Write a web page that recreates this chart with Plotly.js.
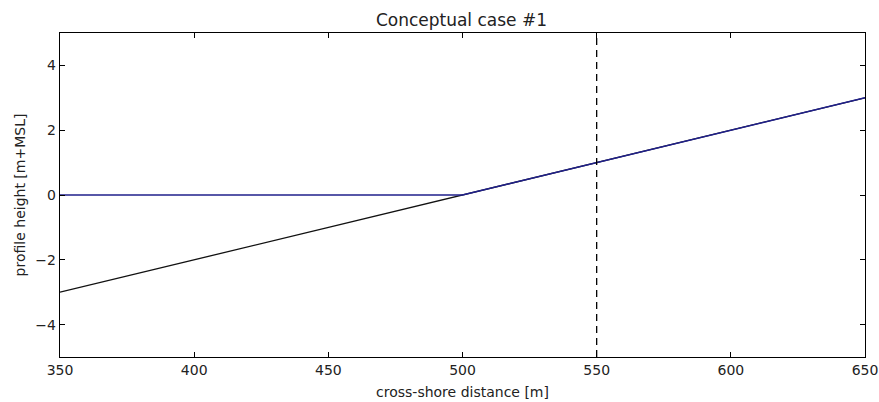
<!DOCTYPE html>
<html><head><meta charset="utf-8">
<script src="https://cdn.plot.ly/plotly-3.0.1.min.js"></script>
<style>html,body{margin:0;padding:0;background:#fff}#c{width:879px;height:402px}</style>
</head><body><div id="c"></div>
<script>
const profileX = [350, 650];
const profileY = [-3, 3];
const waterX = [350, 500, 650];
const waterY = [0, 0, 3];
const markerX = [550, 550];
const markerY = [-5, 5];
const xTicks = [350, 400, 450, 500, 550, 600, 650];
const yTicks = [-4, -2, 0, 2, 4];

const font = {family: 'DejaVu Sans', size: 14, color: '#222'};
const axisCommon = {
  showline: true, linecolor: '#000', linewidth: 1.2, mirror: 'ticks',
  ticks: 'inside', ticklen: 5, tickcolor: '#000', tickwidth: 1,
  showgrid: false, zeroline: false, tickfont: font
};
const data = [
  {x: profileX, y: profileY, mode: 'lines', line: {color: '#111', width: 1.3}, hoverinfo: 'skip'},
  {x: waterX, y: waterY, mode: 'lines', line: {color: '#20208c', width: 1.4}, hoverinfo: 'skip'},
  {x: markerX, y: markerY, mode: 'lines', line: {color: '#000', width: 1.3, dash: '7px,5px'}, hoverinfo: 'skip'}
];
const layout = {
  width: 879, height: 402,
  margin: {l: 60, r: 14, t: 33, b: 45},
  paper_bgcolor: '#fff', plot_bgcolor: '#fff',
  showlegend: false,
  font: font,
  title: {text: 'Conceptual case #1', font: {family: 'DejaVu Sans', size: 17, color: '#222'}, x: 0.525, xanchor: 'center', y: 0.95, yanchor: 'middle'},
  xaxis: Object.assign({}, axisCommon, {range: [350, 650], tickvals: xTicks, ticktext: xTicks.map(String),
    title: {text: 'cross-shore distance [m]', font: font, standoff: 10}}),
  yaxis: Object.assign({}, axisCommon, {range: [-5, 5], tickvals: yTicks, ticktext: yTicks.map(v => v < 0 ? '\u2212' + Math.abs(v) : String(v)),
    title: {text: 'profile height [m+MSL]', font: font, standoff: 6}})
};
Plotly.newPlot('c', data, layout, {staticPlot: true, displayModeBar: false});
</script></body></html>
